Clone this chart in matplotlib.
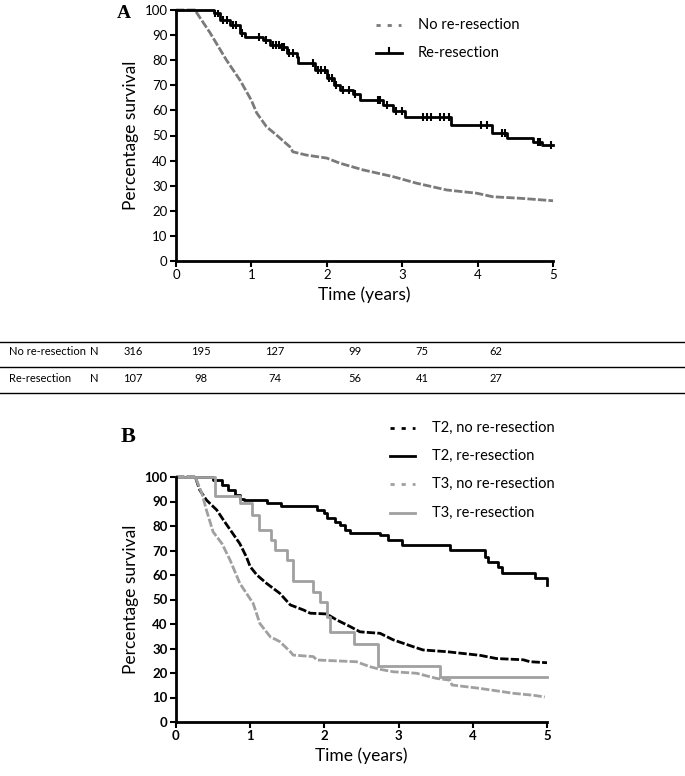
import numpy as np
import matplotlib
matplotlib.use("Agg")
import matplotlib.pyplot as plt
from matplotlib.lines import Line2D

plt.rcParams['font.family'] = ['Lato', 'DejaVu Sans']

# ── Panel A: overall survival ──────────────────────────────────────────────
a_none_t = [0, 0.25, 0.45, 0.67, 0.85, 1.0, 1.07, 1.2, 1.34, 1.51, 1.55, 1.73, 2.0,
            2.17, 2.48, 2.88, 3.19, 3.59, 3.99, 4.2, 4.56, 5.0]
a_none_s = [100, 100, 91, 80, 72, 64, 59, 53.5, 50, 45.5, 43.5, 42.2, 41,
            39, 36.3, 33.6, 31, 28.3, 27, 25.6, 25, 24]

a_rer_t = [0, 0.5, 0.58, 0.72, 0.85, 0.92, 1.16, 1.25, 1.38, 1.47, 1.6, 1.62, 1.84,
           2.0, 2.09, 2.17, 2.35, 2.44, 2.75, 2.88, 3.04, 3.65, 4.19, 4.39, 4.74, 4.85, 5.0]
a_rer_s = [100, 98.7, 96, 94, 90.7, 89.4, 88, 86, 85.4, 82.7, 81.1, 78.7,
           76, 72.8, 70, 68.1, 66.4, 64, 62, 59.8, 57.2, 54.2, 50.9, 48.9, 47.5, 46.2, 46.2]
a_rer_cens = [0.52, 0.56, 0.62, 0.67, 0.75, 0.8, 0.88, 1.1, 1.2, 1.28, 1.32, 1.36, 1.4,
              1.43, 1.5, 1.55, 1.82, 1.88, 1.92, 1.97, 2.03, 2.07, 2.12, 2.22, 2.3,
              2.38, 2.68, 2.7, 2.8, 2.92, 3.0, 3.28, 3.33, 3.38, 3.5, 3.56, 3.62,
              4.05, 4.12, 4.33, 4.36, 4.8, 4.83, 4.97]

# ── numbers at risk ────────────────────────────────────────────────────────
risk_groups = ['No re-resection', 'Re-resection']
risk_none = [316, 195, 127, 99, 75, 62]
risk_rer = [107, 98, 74, 56, 41, 27]

# ── Panel B: by T stage ────────────────────────────────────────────────────
t2_none_t = [0, 0.26, 0.32, 0.41, 0.55, 0.64, 0.75, 0.86, 0.95, 1.0, 1.09, 1.22, 1.4,
             1.54, 1.72, 1.81, 2.03, 2.17, 2.35, 2.48, 2.75, 2.93, 3.2, 3.33, 3.65,
             4.1, 4.32, 4.68, 4.77, 5.0]
t2_none_s = [100, 100, 94.7, 90.6, 86.5, 82.4, 77.6, 72.8, 67.3, 63.4, 60, 56.6, 52.5,
             47.8, 45.7, 44.4, 44.1, 41.6, 38.9, 36.8, 36.2, 33.5, 30.7, 29.4, 28.7,
             27.2, 25.9, 25.4, 24.6, 24.2]

t2_rer_t = [0, 0.5, 0.62, 0.7, 0.8, 0.86, 0.91, 1.22, 1.42, 1.9, 1.99, 2.03, 2.14,
            2.21, 2.28, 2.35, 2.75, 2.86, 3.04, 3.69, 4.17, 4.2, 4.34, 4.39, 4.84, 5.0, 5.0]
t2_rer_s = [100, 98.8, 96.7, 94.7, 92.6, 90.9, 90.5, 89.5, 88.2, 86.5, 85.2, 83.1, 81.8,
            80.3, 78.4, 77.3, 76.3, 74.3, 72.2, 70.2, 67.5, 65.4, 63.4, 60.8, 58.9, 58.9, 55.9]

t3_none_t = [0, 0.26, 0.35, 0.41, 0.5, 0.62, 0.73, 0.86, 0.95, 1.04, 1.13, 1.27, 1.4,
             1.54, 1.58, 1.85, 1.9, 2.43, 2.61, 2.75, 2.93, 3.24, 3.51, 3.69, 3.72,
             4.1, 4.55, 4.82, 4.97]
t3_none_s = [100, 100, 93.2, 86.5, 77.6, 72.8, 66, 56.6, 52.5, 48.4, 40.2, 34.8, 32.8,
             28.7, 27.3, 26.7, 25.3, 24.6, 22.6, 21.5, 20.5, 19.9, 17.8, 17.1, 15.1,
             13.7, 11.7, 10.9, 10.2]

t3_rer_t = [0, 0.53, 0.86, 1.03, 1.12, 1.28, 1.33, 1.5, 1.58, 1.85, 1.94, 2.03, 2.07,
            2.4, 2.72, 3.56, 5.0]
t3_rer_s = [100, 92.3, 89.5, 84.5, 78.4, 74.3, 70.2, 66.1, 57.7, 53.2, 49.1, 43, 36.6,
            31.8, 22.7, 18.2, 18.2]

W, H = 685, 776
fig = plt.figure(figsize=(W / 100, H / 100), dpi=100)


def px_axes(x0, y0, x1, y1):
    return fig.add_axes([x0 / W, 1 - y1 / H, (x1 - x0) / W, (y1 - y0) / H])


def style_axes(ax, bold):
    for side in ['top', 'right']:
        ax.spines[side].set_visible(False)
    for side in ['left', 'bottom']:
        ax.spines[side].set_linewidth(2.0)
    ax.set_xlim(0, 5)
    ax.set_ylim(0, 100)
    ax.set_xticks(range(0, 6))
    ax.set_yticks(range(0, 101, 10))
    ax.tick_params(direction='out', length=4, width=1.5, pad=2, labelsize=9.5)
    if bold:
        for lab in ax.get_xticklabels() + ax.get_yticklabels():
            lab.set_fontweight('bold')
    ax.patch.set_alpha(0)


dense = (0, (3, 0.8))

# ── Panel A ────────────────────────────────────────────────────────────────
axA = px_axes(176, 10, 553, 261)
style_axes(axA, bold=False)
axA.plot(a_none_t, a_none_s, color='#7a7a7a', lw=2.0, ls=dense, clip_on=False)
axA.step(a_rer_t, a_rer_s, where='post', color='black', lw=2.0, clip_on=False)
cens_y = [a_rer_s[np.searchsorted(a_rer_t, c, side='right') - 1] for c in a_rer_cens]
axA.plot(a_rer_cens, cens_y, ls='none', marker='|', ms=6, mew=1.5, color='black')
axA.set_ylabel('Percentage survival', fontsize=12.5, labelpad=4)
axA.set_xlabel('Time (years)', fontsize=12.5, labelpad=4)
fig.text(124 / W, 1 - 13 / H, 'A', family='Liberation Serif', weight='bold',
         fontsize=14, ha='center', va='center')

# legend A
fig.add_artist(Line2D([376 / W, 401 / W], [1 - 25 / H] * 2, color='#7a7a7a', lw=2,
                      ls=(0, (1.5, 2.5))))
fig.add_artist(Line2D([376 / W, 402 / W], [1 - 53 / H] * 2, color='black', lw=2))
fig.add_artist(Line2D([389 / W, 389 / W], [1 - 53 / H, 1 - 48 / H], color='black', lw=1.5))
fig.text(418 / W, 1 - 25 / H, 'No re-resection', fontsize=10.5, va='center')
fig.text(418 / W, 1 - 53 / H, 'Re-resection', fontsize=10.5, va='center')

# ── number-at-risk table ───────────────────────────────────────────────────
for ly in [342, 367, 393]:
    fig.add_artist(Line2D([0, 1], [1 - ly / H] * 2, color='black', lw=1.0))
col_x = [133, 201, 275, 355, 422, 496]
for row_y, name, vals in zip([352, 378], risk_groups, [risk_none, risk_rer]):
    fig.text(9 / W, 1 - row_y / H, name, fontsize=8, va='center')
    fig.text(94 / W, 1 - row_y / H, 'N', fontsize=8, va='center', ha='center')
    for cx, v in zip(col_x, vals):
        fig.text(cx / W, 1 - row_y / H, str(v), fontsize=8, va='center', ha='center')

# ── Panel B ────────────────────────────────────────────────────────────────
axB = px_axes(176, 477, 547, 722)
style_axes(axB, bold=True)
axB.plot(t2_none_t, t2_none_s, color='black', lw=2.0, ls=dense, clip_on=False)
axB.step(t2_rer_t, t2_rer_s, where='post', color='black', lw=2.0, clip_on=False)
axB.plot(t3_none_t, t3_none_s, color='#a0a0a0', lw=2.0, ls=dense, clip_on=False)
axB.step(t3_rer_t, t3_rer_s, where='post', color='#a0a0a0', lw=2.0, clip_on=False)
axB.set_ylabel('Percentage survival', fontsize=12.5, labelpad=4)
axB.set_xlabel('Time (years)', fontsize=12.5, labelpad=4)
fig.text(128 / W, 1 - 437 / H, 'B', family='Liberation Serif', weight='bold',
         fontsize=16, ha='center', va='center')

# legend B
leg_items = [
    ('T2, no re-resection', 'black', (0, (1.5, 2.5))),
    ('T2, re-resection', 'black', '-'),
    ('T3, no re-resection', '#a0a0a0', (0, (1.5, 2.5))),
    ('T3, re-resection', '#a0a0a0', '-'),
]
for (lab, col, ls), ly in zip(leg_items, [428, 456, 484, 513]):
    fig.add_artist(Line2D([390 / W, 415 / W], [1 - ly / H] * 2, color=col, lw=2, ls=ls))
    fig.text(432 / W, 1 - ly / H, lab, fontsize=10.5, va='center')

fig.savefig('out.png', dpi=100)
